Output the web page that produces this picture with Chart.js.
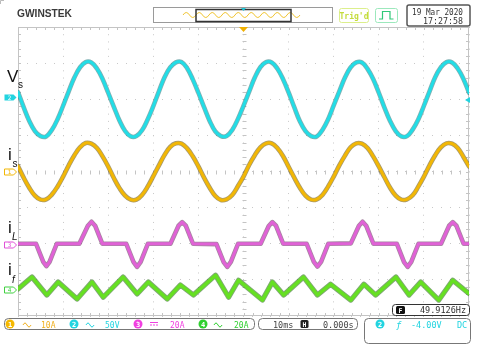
<!DOCTYPE html>
<html>
<head>
<meta charset="utf-8">
<title>Scope capture</title>
<script src="https://cdn.jsdelivr.net/npm/chart.js@4.4.1/dist/chart.umd.min.js"></script>
<style>
    body { margin: 0; background: #fff; overflow: hidden; }
    #screen { position: relative; width: 480px; height: 346px; }
    #screen canvas, #screen svg { position: absolute; left: 0; top: 0; }
    svg text { font-family: "DejaVu Sans Mono", monospace; }
    .lbl { font-family: "Liberation Sans", Arial, sans-serif; fill: #111; }
</style>
</head>
<body>
<div id="screen">
    <canvas id="scopeChart" width="480" height="346"></canvas>
    <svg width="480" height="346" viewBox="0 0 480 346">
        <!-- header -->
        <path d="M0.5,4 V0.5 H4" stroke="#bbb" fill="none"/>
        <text x="17" y="17" font-weight="bold" font-size="10.5" fill="#3a3a3a" style="font-family:'Liberation Sans'" textLength="55" lengthAdjust="spacingAndGlyphs">GWINSTEK</text>
        <rect x="153.5" y="7.5" width="179" height="15" fill="#fff" stroke="#9a9a9a"/>
        <path d="M183,15 q3.25,-5 6.5,0 t6.5,0 t6.5,0 t6.5,0 t6.5,0 t6.5,0 t6.5,0 t6.5,0 t6.5,0 t6.5,0 t6.5,0 t6.5,0 t6.5,0 t6.5,0 t6.5,0 t6.5,0 t6.5,0 t6.5,0" stroke="#f0c430" fill="none"/>
        <rect x="196" y="9.5" width="95" height="12" fill="none" stroke="#333" stroke-width="1.5"/>
        <path d="M241,8 h5 l-2.5,3 z" fill="#20c8d8"/>
        <rect x="339.5" y="8.5" width="29" height="14" rx="2" fill="#fff" stroke="#dcef8c"/>
        <text x="354" y="18.5" text-anchor="middle" font-weight="bold" font-size="8" fill="#c4dc3c">Trig'd</text>
        <rect x="375.5" y="8.5" width="22" height="14" rx="2" fill="#fff" stroke="#9ce8bc"/>
        <path d="M379,19 H382.5 V11.5 H390 V19 H393.5" stroke="#30c878" fill="none" stroke-width="1.2"/>
        <rect x="407" y="5" width="63" height="21" rx="2" fill="#fff" stroke="#555" stroke-width="1.5"/>
        <text x="463" y="15" text-anchor="end" font-size="9" fill="#333" textLength="51" lengthAdjust="spacingAndGlyphs">19 Mar 2020</text>
        <text x="463" y="23.5" text-anchor="end" font-size="9" fill="#333" textLength="40" lengthAdjust="spacingAndGlyphs">17:27:58</text>
        <path d="M239,27 H248 L243.5,32 Z" fill="#f0b000"/>

        <!-- trace names -->
        <text class="lbl" x="7" y="82" font-size="17">V</text>
        <text class="lbl" x="18" y="88" font-size="10">s</text>
        <text class="lbl" x="8" y="160" font-size="17">i</text>
        <text class="lbl" x="12.5" y="167" font-size="10">s</text>
        <text class="lbl" x="8" y="233" font-size="17">i</text>
        <text class="lbl" x="12" y="240" font-size="10" font-style="italic">L</text>
        <text class="lbl" x="8" y="275" font-size="17">i</text>
        <text class="lbl" x="12" y="283" font-size="10" font-style="italic">f</text>

        <!-- channel ground markers -->
        <path d="M4.5,94.5 h9 l3,3 l-3,3 h-9 z" fill="#22d4e0"/>
        <text x="9.5" y="99.5" font-size="6" fill="#fff" text-anchor="middle">2</text>
        <path d="M4.5,169 h9 l3,3 l-3,3 h-9 z" fill="#fff" stroke="#f2b705"/>
        <text x="9.5" y="174" font-size="6" fill="#f2b705" text-anchor="middle">1</text>
        <path d="M4.5,242 h9 l3,3 l-3,3 h-9 z" fill="#fff" stroke="#e050d8"/>
        <text x="9.5" y="247" font-size="6" fill="#e050d8" text-anchor="middle">3</text>
        <path d="M4.5,287 h9 l3,3 l-3,3 h-9 z" fill="#fff" stroke="#40d040"/>
        <text x="9.5" y="292" font-size="6" fill="#40d040" text-anchor="middle">4</text>
        <path d="M470,97 V103 L465,100 Z" fill="#22d4e0"/>

        <!-- frequency readout -->
        <rect x="392.5" y="304.5" width="77" height="11" rx="3" fill="#fff" stroke="#333"/>
        <rect x="396" y="306" width="9" height="8" rx="1.5" fill="#111"/>
        <text x="400.5" y="312.5" font-size="6.5" font-weight="bold" fill="#fff" text-anchor="middle">F</text>
        <text x="466" y="313" text-anchor="end" font-size="8.5" fill="#333">49.9126Hz</text>

        <!-- channel status bar -->
        <rect x="4.5" y="318.5" width="250" height="11" rx="4" fill="#fff" stroke="#777"/>
        <circle cx="10" cy="324" r="4.5" fill="#f5b800"/>
        <text x="10" y="326.5" font-size="7" font-weight="bold" fill="#fff" text-anchor="middle">1</text>
        <path d="M23,325 q2,-4 4,0 t4,0" stroke="#f0b020" fill="none"/>
        <text x="41" y="327.5" font-size="8" fill="#f0b020">10A</text>
        <circle cx="74" cy="324" r="4.5" fill="#22d4e0"/>
        <text x="74" y="326.5" font-size="7" font-weight="bold" fill="#fff" text-anchor="middle">2</text>
        <path d="M86,325 q2,-4 4,0 t4,0" stroke="#22d4e0" fill="none"/>
        <text x="105" y="327.5" font-size="8" fill="#22d4e0">50V</text>
        <circle cx="138" cy="324" r="4.5" fill="#f040e0"/>
        <text x="138" y="326.5" font-size="7" font-weight="bold" fill="#fff" text-anchor="middle">3</text>
        <path d="M150,322.5 h8" stroke="#f040e0"/>
        <path d="M150,325 h8" stroke="#f040e0" stroke-dasharray="2,1"/>
        <text x="170" y="327.5" font-size="8" fill="#f040e0">20A</text>
        <circle cx="203" cy="324" r="4.5" fill="#30d030"/>
        <text x="203" y="326.5" font-size="7" font-weight="bold" fill="#fff" text-anchor="middle">4</text>
        <path d="M214,325 q2,-4 4,0 t4,0" stroke="#30d030" fill="none"/>
        <text x="234" y="327.5" font-size="8" fill="#30d030">20A</text>

        <rect x="258.5" y="318.5" width="99" height="11" rx="4" fill="#fff" stroke="#777"/>
        <text x="273" y="327.5" font-size="8.5" fill="#444">10ms</text>
        <rect x="300.5" y="320" width="8" height="8" rx="1.5" fill="#222"/>
        <text x="304.5" y="326.5" font-size="6.5" font-weight="bold" fill="#fff" text-anchor="middle">H</text>
        <text x="323" y="327.5" font-size="8.5" fill="#444">0.000s</text>

        <rect x="364.5" y="318.5" width="106" height="25" rx="4" fill="#fff" stroke="#777"/>
        <circle cx="380" cy="324" r="4.5" fill="#22d4e0"/>
        <text x="380" y="326.5" font-size="7" font-weight="bold" fill="#fff" text-anchor="middle">2</text>
        <text x="396" y="327.5" font-size="9" font-style="italic" fill="#22d4e0">ƒ</text>
        <text x="411" y="327.5" font-size="8.5" fill="#22d4e0">-4.00V</text>
        <text x="457" y="327.5" font-size="8.5" fill="#22d4e0">DC</text>
    </svg>
</div>

<script>
// time axis in ms (10 ms/div, 10 div), values in screen divisions

// Vs (ch2) and is (ch1) sampled every 1.25 ms
const sampleTimes = [
    0, 1.25, 2.5, 3.75, 5, 6.25, 7.5, 8.75, 10, 11.25, 12.5, 13.75, 15, 16.25, 17.5, 18.75,
    20, 21.25, 22.5, 23.75, 25, 26.25, 27.5, 28.75, 30, 31.25, 32.5, 33.75, 35, 36.25, 37.5, 38.75,
    40, 41.25, 42.5, 43.75, 45, 46.25, 47.5, 48.75, 50, 51.25, 52.5, 53.75, 55, 56.25, 57.5, 58.75,
    60, 61.25, 62.5, 63.75, 65, 66.25, 67.5, 68.75, 70, 71.25, 72.5, 73.75, 75, 76.25, 77.5, 78.75,
    80, 81.25, 82.5, 83.75, 85, 86.25, 87.5, 88.75, 90, 91.25, 92.5, 93.75, 95, 96.25, 97.5, 98.75,
    100
];

const vsValues = [
    2.20, 1.78, 1.40, 1.12, 0.98, 0.97, 1.15, 1.44, 1.82, 2.22, 2.60, 2.88, 3.03, 3.02, 2.85, 2.56,
    2.18, 1.79, 1.41, 1.12, 0.97, 0.98, 1.14, 1.44, 1.81, 2.22, 2.61, 2.88, 3.02, 3.03, 2.86, 2.55,
    2.18, 1.78, 1.40, 1.11, 0.98, 0.98, 1.15, 1.45, 1.82, 2.21, 2.60, 2.89, 3.03, 3.02, 2.85, 2.56,
    2.19, 1.78, 1.39, 1.12, 0.98, 0.97, 1.15, 1.44, 1.83, 2.22, 2.60, 2.88, 3.02, 3.02, 2.84, 2.56,
    2.18, 1.77, 1.40, 1.12, 0.97, 0.98, 1.16, 1.44, 1.82, 2.22, 2.61, 2.88, 3.03, 3.02, 2.85, 2.57,
    2.18
];

const isValues = [
    0.15, -0.17, -0.45, -0.67, -0.78, -0.77, -0.64, -0.42, -0.14, 0.17, 0.45, 0.67, 0.79, 0.77, 0.65, 0.42,
    0.14, -0.18, -0.46, -0.67, -0.78, -0.78, -0.65, -0.42, -0.13, 0.17, 0.46, 0.68, 0.78, 0.77, 0.64, 0.42,
    0.14, -0.17, -0.45, -0.68, -0.79, -0.77, -0.65, -0.41, -0.14, 0.18, 0.45, 0.67, 0.78, 0.78, 0.65, 0.43,
    0.13, -0.17, -0.45, -0.67, -0.78, -0.77, -0.65, -0.42, -0.14, 0.17, 0.44, 0.67, 0.78, 0.77, 0.65, 0.42,
    0.14, -0.16, -0.45, -0.67, -0.78, -0.77, -0.66, -0.42, -0.14, 0.17, 0.45, 0.67, 0.78, 0.77, 0.65, 0.41,
    0.14
];

// iL (ch3): flat with a pulse at each voltage peak / trough
const iLTimes = [
    0, 4.0, 5.6, 6.3, 7.0, 8.6, 13.6, 15.5, 16.3, 17.1, 18.7,
    24.0, 25.6, 26.4, 27.2, 28.8, 33.8, 35.6, 36.4, 37.2, 38.8,
    44.0, 45.6, 46.4, 47.2, 48.8, 53.8, 55.6, 56.4, 57.2, 58.8,
    64.0, 65.6, 66.4, 67.2, 68.8, 73.8, 75.6, 76.4, 77.2, 78.8,
    84.0, 85.6, 86.4, 87.2, 88.8, 93.8, 95.6, 96.4, 97.2, 98.8,
    100
];
const iLValues = [
    -2.00, -2.00, -2.50, -2.62, -2.50, -2.00, -2.00, -1.50, -1.39, -1.50, -2.00,
    -2.00, -2.50, -2.64, -2.50, -2.00, -2.00, -1.50, -1.40, -1.50, -2.00,
    -2.01, -2.51, -2.64, -2.50, -2.00, -2.00, -1.51, -1.40, -1.50, -2.00,
    -2.00, -2.50, -2.63, -2.50, -2.00, -1.99, -1.50, -1.39, -1.50, -2.00,
    -2.00, -2.51, -2.64, -2.50, -2.00, -2.00, -1.50, -1.40, -1.50, -2.00,
    -2.00
];

// if (ch4): triangular compensating current
const ifTimes = [
    0, 3.1, 6.4, 8.9, 13.1, 16.4, 18.9, 23.3, 26.4, 28.9, 33.1, 36.0, 38.9, 43.8, 46.7, 48.9,
    54.2, 56.4, 58.9, 63.3, 66.4, 69.3, 73.8, 76.7, 79.3, 83.8, 86.7, 89.3, 93.3, 96.4, 100
];
const ifValues = [
    -3.25, -2.92, -3.42, -3.06, -3.53, -3.06, -3.48, -2.92, -3.39, -3.06, -3.53, -3.14, -3.42, -2.87, -3.48, -3.01,
    -3.56, -3.06, -3.42, -2.92, -3.42, -3.12, -3.56, -3.12, -3.42, -2.92, -3.42, -3.06, -3.56, -3.01, -3.38
];

function trace(times, values, color, width, tension, order) {
    return {
        data: times.map((t, i) => ({ x: t, y: values[i] })),
        borderColor: color,
        borderWidth: width,
        pointRadius: 0,
        tension: tension,
        borderJoinStyle: 'round',
        borderCapStyle: 'round',
        order: order
    };
}

// light frame with minor division ticks, like the scope graticule
const graticule = {
    id: 'graticule',
    beforeDatasetsDraw(chart) {
        const { ctx, chartArea: area, scales } = chart;
        const xs = scales.x, ys = scales.y;
        const midX = Math.round(xs.getPixelForValue(50)) + 0.5;
        const midY = Math.round(ys.getPixelForValue(0)) + 0.5;
        ctx.save();
        ctx.strokeStyle = '#c4c4c4';
        ctx.lineWidth = 1;
        ctx.strokeRect(area.left + 0.5, area.top + 0.5, area.width - 1, area.height - 1);
        ctx.beginPath();
        for (let k = 1; k < 50; k++) {
            const px = Math.round(xs.getPixelForValue(k * 2)) + 0.5;
            ctx.moveTo(px, area.top); ctx.lineTo(px, area.top + 3);
            ctx.moveTo(px, area.bottom); ctx.lineTo(px, area.bottom - 3);
            ctx.moveTo(px, midY - 2); ctx.lineTo(px, midY + 2);
        }
        for (let k = 1; k < 40; k++) {
            const py = Math.round(ys.getPixelForValue(-4 + k * 0.2)) + 0.5;
            ctx.moveTo(area.left, py); ctx.lineTo(area.left + 3, py);
            ctx.moveTo(area.right, py); ctx.lineTo(area.right - 3, py);
            ctx.moveTo(midX - 2, py); ctx.lineTo(midX + 2, py);
        }
        ctx.stroke();
        ctx.restore();
    }
};

const scopeCtx = document.getElementById('scopeChart').getContext('2d');
new Chart(scopeCtx, {
    type: 'line',
    data: {
        datasets: [
            // bright traces on top
            trace(sampleTimes, vsValues, '#22dde6', 3, 0.4, 0),
            trace(sampleTimes, isValues, '#f2b705', 3, 0.4, 0),
            trace(iLTimes, iLValues, '#e062d6', 3, 0, 0),
            trace(ifTimes, ifValues, '#66e022', 3.4, 0, 0),
            // darker noisy edges underneath
            trace(sampleTimes, vsValues, 'rgba(20, 110, 115, 0.55)', 4.6, 0.4, 1),
            trace(sampleTimes, isValues, 'rgba(110, 85, 10, 0.6)', 4.6, 0.4, 1),
            trace(iLTimes, iLValues, 'rgba(110, 50, 100, 0.6)', 4.6, 0, 1),
            trace(ifTimes, ifValues, 'rgba(40, 110, 20, 0.6)', 5.2, 0, 1)
        ]
    },
    options: {
        responsive: false,
        animation: false,
        layout: { padding: { left: 18, top: 27, right: 11, bottom: 30 } },
        plugins: {
            legend: { display: false },
            tooltip: { enabled: false }
        },
        scales: {
            x: {
                type: 'linear',
                min: 0,
                max: 100,
                ticks: { display: false, stepSize: 10 },
                grid: { color: '#c8c8c8', drawTicks: false },
                border: { display: false, dash: [1, 6.22] },
                afterFit(scale) { scale.height = 0; }
            },
            y: {
                min: -4,
                max: 4,
                ticks: { display: false, stepSize: 1 },
                grid: { color: '#c8c8c8', drawTicks: false },
                border: { display: false, dash: [1, 8] },
                afterFit(scale) { scale.width = 0; }
            }
        }
    },
    plugins: [graticule]
});
</script>
</body>
</html>
